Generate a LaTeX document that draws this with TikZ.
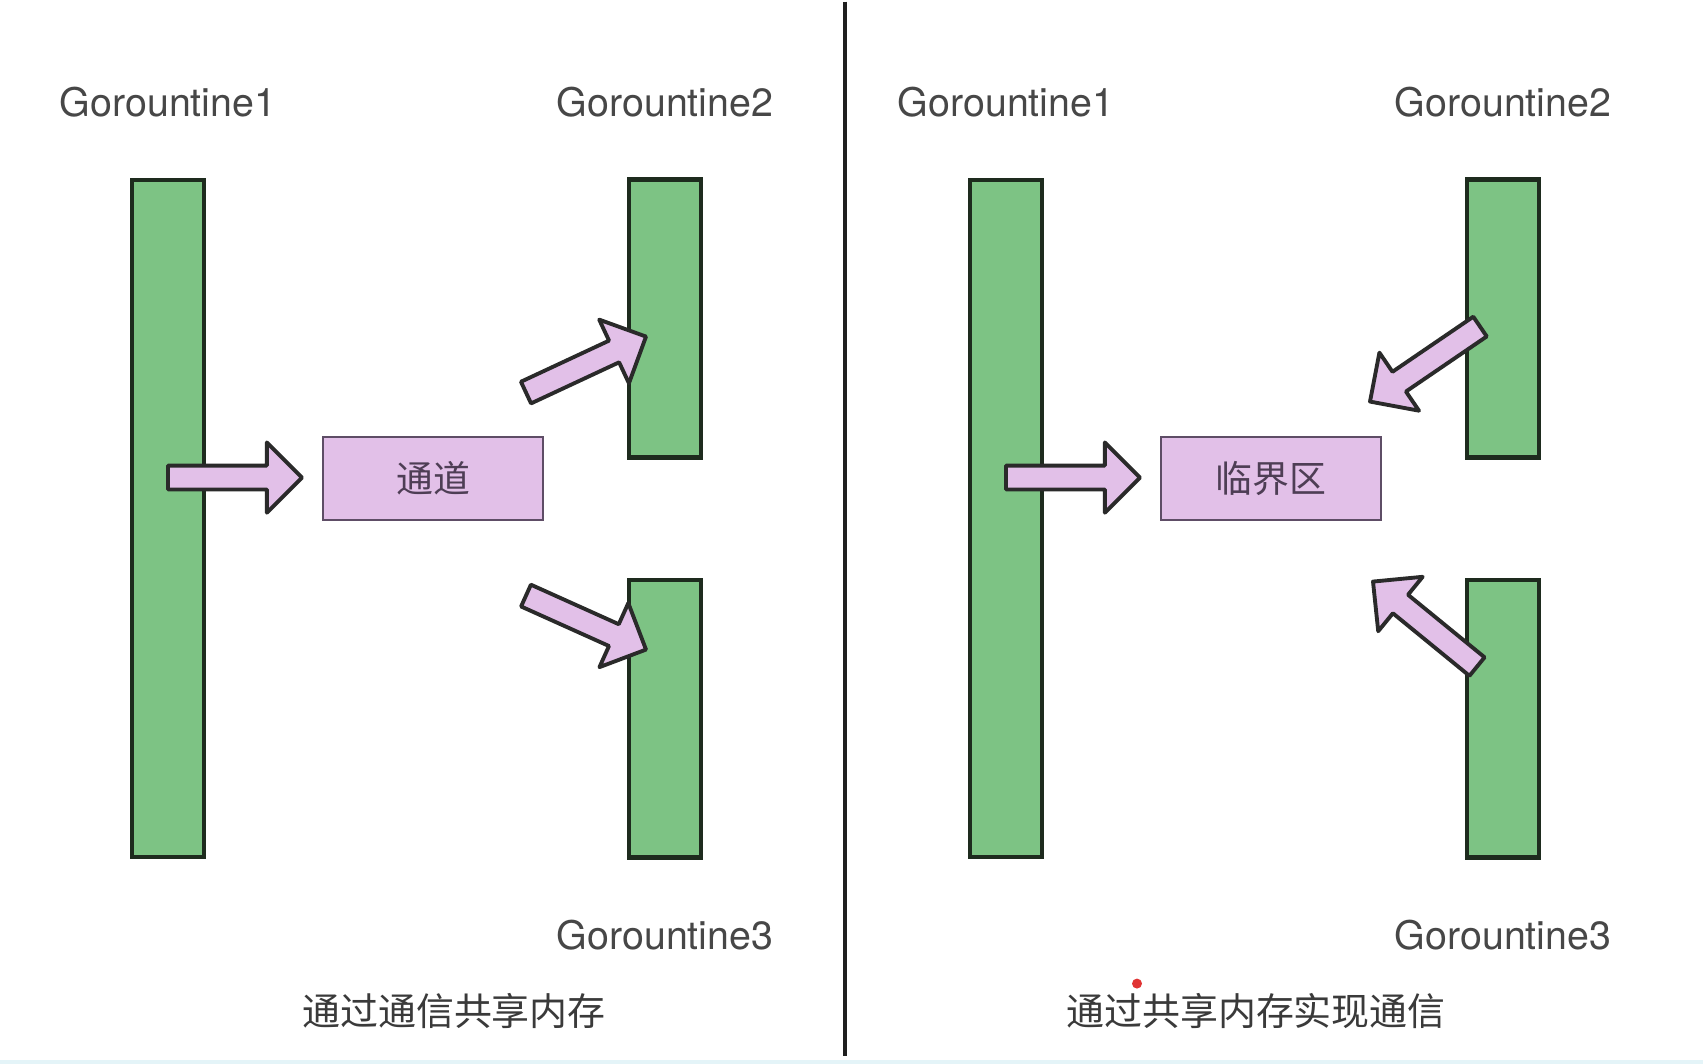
\documentclass[tikz,border=0pt]{standalone}
\usepackage{fontspec}
\setmainfont{TeX Gyre Heros}
\newfontfamily\cjk{Noto Sans CJK SC}
\usepackage{xcolor}
\usetikzlibrary{positioning}
\usetikzlibrary{calc}
\definecolor{barfill}{HTML}{7DC384}
\definecolor{bardraw}{HTML}{1E2B1E}
\definecolor{boxfill}{HTML}{E2C0E8}
\definecolor{boxdraw}{HTML}{5E4D66}
\definecolor{boxtext}{HTML}{4E3E55}
\definecolor{arrowdraw}{HTML}{2A2A2A}
\definecolor{labelgray}{HTML}{474747}
\definecolor{captiongray}{HTML}{3A3A3A}
\definecolor{divider}{HTML}{1F1F1F}
\definecolor{strip}{HTML}{E4F4F8}

\begin{document}
\begin{tikzpicture}[x=0.02cm, y=-0.02cm, node distance=1.2cm,
        bar/.style={draw=bardraw, fill=barfill, line width=2.4pt, minimum width=1.45cm, inner sep=0},
        zone/.style={draw=boxdraw, fill=boxfill, line width=1.4pt, minimum width=4.4cm, minimum height=1.66cm, font=\cjk\fontsize{21pt}{25pt}\selectfont, text=boxtext},
        gname/.style={font=\fontsize{22.4pt}{27pt}\selectfont, text=labelgray, inner sep=0},
        caption/.style={font=\cjk\fontsize{21.6pt}{26pt}\selectfont, text=captiongray, inner sep=0},
        fat/.style={draw=arrowdraw, fill=boxfill, line width=2.2pt, line join=round,
            to path={let \p1=(\tikztostart), \p2=(\tikztotarget),
                \n1={atan2(\y2-\y1,\x2-\x1)}, \n2={veclen(\x2-\x1,\y2-\y1)-20pt} in
                ($(\p1)+(\n1+90:6.8pt)$) -- ($(\p1)+(\n1:\n2)+(\n1+90:6.8pt)$)
                -- ($(\p1)+(\n1:\n2)+(\n1+90:20pt)$) -- (\p2)
                -- ($(\p1)+(\n1:\n2)+(\n1-90:20pt)$) -- ($(\p1)+(\n1:\n2)+(\n1-90:6.8pt)$)
                -- ($(\p1)+(\n1-90:6.8pt)$) -- cycle}}]
        \fill[white] (0,0) rectangle (1703,1062);
        \fill[strip] (0,1058) rectangle (1703,1062);
        \coordinate (top) at (845,0);
        \coordinate (bottom) at (845,1054);
        \draw[divider, line width=1.8pt] (top) -- (bottom);

        \node[bar, minimum height=13.54cm] (g1) at (168,517) {};
        \node[bar, minimum height=5.56cm] (g2) at (665,317) {};
        \node[bar, minimum height=5.56cm] (g3) at (665,717) {};
        \node[zone] (channel) at (433,477) {通道};
        \node[gname, above=of g1] (g1name) {Gorountine1};
        \node[gname, above=of g2] (g2name) {Gorountine2};
        \node[gname, below=1.2cm of g3] (g3name) {Gorountine3};
        \node[caption] (left_caption) at (454,1009) {通过通信共享内存};

        \coordinate (send_tail) at (168,476);
        \coordinate (send_tip) at (302,476);
        \coordinate (up_tail) at (526,391);
        \coordinate (up_tip) at (646,335);
        \coordinate (down_tail) at (526,594);
        \coordinate (down_tip) at (646,648);
        \draw[fat] (send_tail) to (send_tip);
        \draw[fat] (up_tail) to (up_tip);
        \draw[fat] (down_tail) to (down_tip);

        \node[bar, minimum height=13.54cm] (h1) at (1006,517) {};
        \node[bar, minimum height=5.56cm] (h2) at (1503,317) {};
        \node[bar, minimum height=5.56cm] (h3) at (1503,717) {};
        \node[zone] (critical) at (1271,477) {临界区};
        \node[gname, above=of h1] (h1name) {Gorountine1};
        \node[gname, above=of h2] (h2name) {Gorountine2};
        \node[gname, below=1.2cm of h3] (h3name) {Gorountine3};
        \node[caption] (right_caption) at (1256,1009) {通过共享内存实现通信};
        \fill[red!85!black, opacity=0.8] (1137,982) circle (5);

        \coordinate (enter_tail) at (1006,476);
        \coordinate (enter_tip) at (1140,476);
        \coordinate (upper_tail) at (1480,325);
        \coordinate (upper_tip) at (1370,400);
        \coordinate (lower_tail) at (1477,665);
        \coordinate (lower_tip) at (1373,580);
        \draw[fat] (enter_tail) to (enter_tip);
        \draw[fat] (upper_tail) to (upper_tip);
        \draw[fat] (lower_tail) to (lower_tip);
    \end{tikzpicture}
\end{document}
